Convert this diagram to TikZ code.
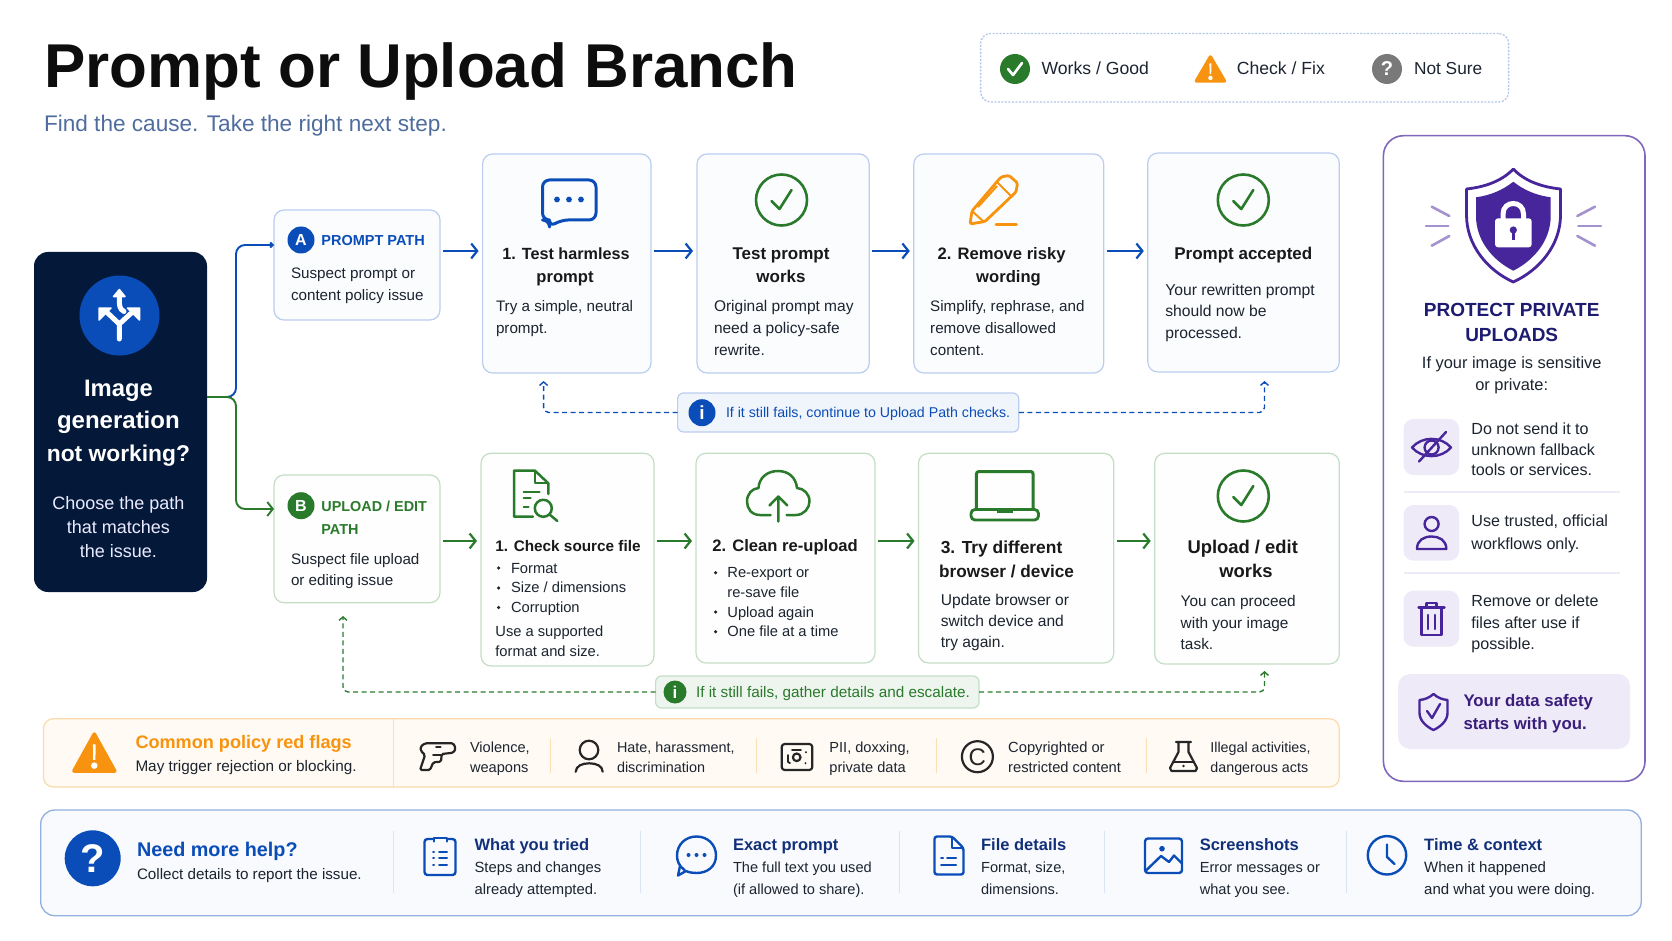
\documentclass[tikz,border=0pt]{standalone}
\usepackage{fontspec}
\setmainfont{Liberation Sans}
\usetikzlibrary{arrows.meta,calc}

\definecolor{inktxt}{HTML}{1C2430}
\definecolor{flowblue}{HTML}{0B4DB8}
\definecolor{flowgreen}{HTML}{2A7A2C}
\definecolor{warnor}{HTML}{F7930F}
\definecolor{navybox}{HTML}{04193A}
\definecolor{helpnavy}{HTML}{12307A}
\definecolor{purp}{HTML}{47259A}
\definecolor{purpnavy}{HTML}{1E1C70}
\definecolor{purpline}{HTML}{8067BE}
\definecolor{purptile}{HTML}{EFEAF8}
\definecolor{subtxt}{HTML}{4F6C9E}
\definecolor{cardblue}{HTML}{BBCDEF}
\definecolor{cardgreen}{HTML}{C4DEC6}

\newcommand{\sz}[1]{\fontsize{#1}{#1}\selectfont}

\tikzset{
  txt/.style={anchor=base west,inner sep=0pt,outer sep=0pt,text=inktxt,font=\sz{15.2}},
  mid/.style={txt,anchor=base},
  cardhead/.style={mid,font=\bfseries\sz{16.6},text=black!90},
  cardheadw/.style={txt,font=\bfseries\sz{16.6},text=black!90},
  bluecard/.style={draw=cardblue,fill=flowblue!1.5!white,line width=1.2pt,rounded corners=10pt,inner sep=0pt,outer sep=0pt},
  greencard/.style={draw=cardgreen,fill=flowgreen!1!white,line width=1.2pt,rounded corners=10pt,inner sep=0pt,outer sep=0pt},
  badge/.style={circle,inner sep=0pt,outer sep=0pt,text=white,font=\bfseries\sz{16}},
  blueflow/.style={->,>={Straight Barb[length=6pt,width=15pt]},flowblue,line width=2.2pt,shorten <=3pt,shorten >=4pt},
  greenflow/.style={->,>={Straight Barb[length=6pt,width=15pt]},flowgreen,line width=2.2pt,shorten <=3pt,shorten >=4pt},
  backdash/.style={->,>={Straight Barb[length=3.5pt,width=8pt]},dashed,line width=1.4pt,rounded corners=5pt,dash pattern=on 5pt off 3.5pt},
  flagsep/.style={draw=warnor!30!white,line width=1pt},
  helpsep/.style={draw=flowblue!15!white,line width=1pt},
  icona/.style={line width=2.6pt,line join=round,line cap=round},
  flagicon/.style={draw=black!85,line width=2.2pt,line join=round,line cap=round},
}

\newcommand{\card}[6]{\node[#1,minimum width={(#5-#3)*1pt},minimum height={(#6-#4)*1pt}] (#2) at ({(#3+#5)/2},{(#4+#6)/2}) {};}
\newcommand{\txtlines}[6]{\foreach \tline [count=\i from 0] in {#6} {\node[#2] (#1\i) at (#3,{#4+\i*#5}) {\tline};}}
\newcommand{\okring}[2]{%
  \draw[flowgreen,line width=2.6pt] (#1,#2) circle (25.5pt);
  \draw[flowgreen,line width=2.6pt,line cap=round,line join=round] ({#1-10},{#2+1}) -- ({#1-2},{#2+9}) -- ({#1+10},{#2-10});}
\newcommand{\warntri}[4]{%
  \fill[warnor,draw=warnor,line width=3.5pt,line join=round] (#1,{#2+2}) -- ({#1+#3-2},{#4-2}) -- ({#1-#3+2},{#4-2}) -- cycle;
  \fill[white] ({#1-0.06*#3},{#2+0.3*(#4-#2)}) -- ({#1+0.06*#3},{#2+0.3*(#4-#2)}) -- ({#1+0.05*#3},{#2+0.68*(#4-#2)}) -- ({#1-0.05*#3},{#2+0.68*(#4-#2)}) -- cycle;
  \fill[white] (#1,{#2+0.82*(#4-#2)}) circle ({0.08*(#4-#2)*1pt});}

\begin{document}
\begin{tikzpicture}[x=1pt,y=-1pt]
\useasboundingbox (0,0) rectangle (1672,941);

%title and legend
\node[txt,font=\bfseries\sz{61.9},text=black!95] (title) at (44.5,88) {Prompt or Upload Branch};
\node[txt,font=\sz{22.6},text=subtxt] (subtitle) at (44,132) {Find the cause. Take the right next step.};

\card{draw=flowblue!32!white,dash pattern=on 2pt off 1.5pt,line width=1.3pt,rounded corners=10pt,inner sep=0pt}{legend}{980.6}{33.5}{1508.6}{102}
\fill[flowgreen] (1015,69) circle (15pt);
\draw[white,line width=2.6pt,line cap=round,line join=round] (1008,69) -- (1013,75) -- (1022,63);
\node[txt,font=\sz{17.6}] (legok) at (1041.6,75) {Works / Good};
\warntri{1210.4}{55}{16}{83}
\node[txt,font=\sz{17.6}] (legfix) at (1236.9,75) {Check / Fix};
\node[badge,fill=gray!95!black,minimum size=30pt,font=\bfseries\sz{20}] (legq) at (1387,69) {?};
\node[txt,font=\sz{17.3}] (legsure) at (1414,75) {Not Sure};

%left box
\card{fill=navybox,rounded corners=14pt,inner sep=0pt,outer sep=0pt}{issue}{34}{252}{207}{592}
\fill[flowblue] (119.5,315.5) circle (40pt);
\draw[white,line width=5pt,line cap=round,line join=round] (119.3,339) -- (119.3,324) -- (106,311.5) (119.3,324) -- (133,311.5) (124,311.5) .. controls (119.3,309) and (119.3,306) .. (119.3,297);
\fill[white,draw=white,line width=1.5pt,line join=round] (119.3,289.5) -- (125,296.5) -- (113.6,296.5) -- cycle;
\fill[white,draw=white,line width=1.5pt,line join=round] (99,308) -- (111,308) -- (99,320) -- cycle;
\fill[white,draw=white,line width=1.5pt,line join=round] (139.5,308) -- (127.5,308) -- (139.5,320) -- cycle;
\node[mid,font=\bfseries\sz{23.8},text=white] (issuea) at (118.4,396) {Image};
\node[mid,font=\bfseries\sz{24},text=white] (issueb) at (118.4,428.5) {generation};
\node[mid,font=\bfseries\sz{22.8},text=white] (issuec) at (118.4,461.5) {not working?};
\txtlines{issuetxt}{mid,font=\sz{18},text=white!92!blue}{118.4}{509}{24}{Choose the path,that matches,the issue.}

%prompt row
\coordinate (rowa) at (0,251);
\card{bluecard}{apath}{274}{210}{440}{320}
\node[badge,fill=flowblue,minimum size=27pt] (abadge) at (301,240) {A};
\node[txt,font=\bfseries\sz{14.5},text=flowblue] (apathname) at (321.4,245.6) {PROMPT PATH};
\txtlines{apathtxt}{txt}{291}{279}{21}{Suspect prompt or,content policy issue}

\card{bluecard}{testp}{482.6}{154}{651}{373}
\draw[flowblue,line width=3pt,line join=round,rounded corners=7pt] (542.5,180) -- (596,180) -- (596,220) -- (561,220) -- (549.5,227) -- (549.5,220) -- (542.5,220) -- cycle;
\foreach \dx in {557,569,581} {\fill[flowblue] (\dx,199.5) circle (2.9pt);}
\node[cardhead,font=\bfseries\sz{16.2}] (testphead) at (566,260) {1. Test harmless};
\node[cardhead] (testphead2) at (565,283) {prompt};
\txtlines{testptxt}{txt}{496}{311}{22}{{Try a simple, neutral},prompt.}

\card{bluecard}{pworks}{697}{154}{869.2}{373}
\okring{781.5}{200}
\node[cardhead,font=\bfseries\sz{17}] (pworkshead) at (781,260) {Test prompt};
\node[cardhead,font=\bfseries\sz{17}] (pworkshead2) at (781,282) {works};
\txtlines{pworkstxt}{txt,font=\sz{15.5}}{714}{311}{22}{Original prompt may,need a policy-safe,rewrite.}

\card{bluecard}{rewrite}{913.8}{154}{1103.7}{373}
\draw[warnor,icona,line width=2.8pt,rounded corners=1.5pt] (970,224) -- (972,211) -- (1001,177) -- (1009,175.5) -- (1017.5,183) -- (1016,192) -- (985,221.5) -- cycle;
\draw[warnor,line width=2pt] (997,182) -- (1011,196) (978,207) -- (997,186) (972,211) -- (984,222);
\draw[warnor,line width=2.8pt,line cap=round] (996,224.5) -- (1016.5,224.5);
\node[cardheadw] (rewritehead) at (937.6,260) {2. Remove risky};
\node[cardhead] (rewritehead2) at (1008.5,282) {wording};
\txtlines{rewritetxt}{txt}{930.2}{311}{22}{{Simplify, rephrase, and},remove disallowed,content.}

\card{bluecard}{paccept}{1147.8}{153}{1339.3}{372}
\okring{1243.3}{200}
\node[cardhead,font=\bfseries\sz{17}] (paccepthead) at (1243.3,259.5) {Prompt accepted};
\txtlines{paccepttxt}{txt,font=\sz{15.7}}{1165.3}{295}{21.7}{Your rewritten prompt,should now be,processed.}

\foreach \a/\b in {apath/testp,testp/pworks,pworks/rewrite,rewrite/paccept} {\draw[blueflow] (\a.east |- rowa) -- (\b.west |- rowa);}

%blue fallback
\card{bluecard,fill=flowblue!6!white,rounded corners=6pt}{bluepill}{677.6}{393}{1018.8}{432}
\node[badge,fill=flowblue,minimum size=27pt,font=\bfseries\sz{19}] (bluei) at (702,412.7) {i};
\node[txt,font=\sz{14.2},text=flowblue] (bluepilltxt) at (726,417.7) {If it still fails, continue to Upload Path checks.};
\coordinate (bluebackl) at (543.6,381);
\coordinate (bluebackr) at (1264.5,381);
\draw[backdash,flowblue] (bluepill.west) -| (bluebackl);
\draw[backdash,flowblue] (bluepill.east) -| (bluebackr);

%upload row
\coordinate (rowb) at (0,541);
\card{greencard}{bpath}{274}{475}{440}{602.7}
\node[badge,fill=flowgreen,minimum size=27pt] (bbadge) at (301,505.7) {B};
\txtlines{bpathname}{txt,font=\bfseries\sz{14.4},text=flowgreen}{321.4}{511.7}{22.5}{UPLOAD / EDIT,PATH}
\txtlines{bpathtxt}{txt}{291}{564}{21.3}{Suspect file upload,or editing issue}

\card{greencard}{source}{481}{453.3}{654}{666}
\begin{scope}[flowgreen,icona,line width=2.5pt]
\draw (548.3,494) -- (548.3,483.3) -- (535,470.7) -- (514,470.7) -- (514,516.7) -- (533,516.7);
\draw[line width=2pt] (535,471) -- (535,483.3) -- (548,483.3);
\draw[line width=2pt] (523.5,491.7) -- (539.5,491.7) (523.5,498.3) -- (530.7,498.3) (523.5,506.5) -- (528.5,506.5);
\draw (543.3,508.3) circle (8.5pt);
\draw (549.5,514.5) -- (557.3,521);
\end{scope}
\node[cardheadw,font=\bfseries\sz{15.3}] (sourcehead) at (495.4,551.7) {1. Check source file};
\txtlines{sourcelist}{txt,font=\sz{14.7}}{511}{573}{19.8}{Format,Size / dimensions,Corruption}
\foreach \by in {568,588,607.5} {\fill[inktxt] (498.6,\by) circle (1.8pt);}
\txtlines{sourcetxt}{txt,font=\sz{14.7}}{495.4}{636.7}{19.6}{Use a supported,format and size.}

\card{greencard}{reup}{696}{453.3}{875}{663}
\begin{scope}[flowgreen,icona,line width=2.5pt]
\draw (770.5,515) -- (760,515) .. controls (751,515) and (747,508) .. (747,501.5) .. controls (747,494) and (752,488.5) .. (758.5,488) .. controls (759,478) and (767,471) .. (778,471) .. controls (789,471) and (796,478) .. (797,488) .. controls (804,488.5) and (809.5,494) .. (809.5,501.5) .. controls (809.5,508) and (804,515) .. (796,515) -- (786.5,515);
\draw (778.3,521.5) -- (778.3,497) (769.5,505.5) -- (778.3,496.5) -- (787.3,505.5);
\end{scope}
\node[cardheadw] (reuphead) at (712.4,551.7) {2. Clean re-upload};
\txtlines{reuplist}{txt,font=\sz{14.7}}{727.4}{577.7}{19.7}{Re-export or,re-save file,Upload again,One file at a time}
\foreach \by in {572.7,612,631.7} {\fill[inktxt] (715.6,\by) circle (1.8pt);}

\card{greencard}{device}{918.5}{453.3}{1113.8}{663}
\draw[flowgreen,line width=3pt,rounded corners=2.5pt] (976.4,509) -- (976.4,471.5) -- (1033.1,471.5) -- (1033.1,509);
\draw[flowgreen,line width=2.8pt,rounded corners=4pt] (971,509.5) rectangle (1038.5,520);
\fill[flowgreen] (997,509.5) rectangle (1013,512.5);
\node[cardheadw,font=\bfseries\sz{17.4}] (devicehead) at (940.8,553) {3. Try different};
\node[cardheadw,font=\bfseries\sz{17.2}] (devicehead2) at (939.2,577) {browser / device};
\txtlines{devicetxt}{txt,font=\sz{15.6}}{940.8}{605.7}{21}{Update browser or,switch device and,try again.}

\card{greencard}{uworks}{1154.7}{453.3}{1339.3}{664}
\okring{1243.3}{496}
\node[cardhead,font=\bfseries\sz{18.4}] (uworkshead) at (1242.7,553) {Upload / edit};
\node[cardhead,font=\bfseries\sz{18.4}] (uworkshead2) at (1246,577) {works};
\txtlines{uworkstxt}{txt,font=\sz{15.4}}{1180.7}{606.7}{21.6}{You can proceed,with your image,task.}

\foreach \a/\b in {bpath/source,source/reup,reup/device,device/uworks} {\draw[greenflow] (\a.east |- rowb) -- (\b.west |- rowb);}

%trunk out of the left box
\coordinate (trunk) at (236,397);
\coordinate (entrya) at (0,245);
\coordinate (entryb) at (0,509);
\draw[->,>={Straight Barb[length=2.5pt,width=5pt]},flowblue,line width=1.9pt,rounded corners=9pt] (issue.east |- trunk) -| (trunk |- entrya) -- (apath.west |- entrya);
\draw[->,>={Straight Barb[length=5.5pt,width=14pt]},flowgreen,line width=1.9pt,rounded corners=9pt] (issue.east |- trunk) -| (trunk |- entryb) -- (bpath.west |- entryb);

%green fallback
\card{greencard,fill=flowgreen!8!white,rounded corners=6pt}{greenpill}{655.6}{676}{979}{708}
\node[badge,fill=flowgreen,minimum size=23pt,font=\bfseries\sz{17}] (greeni) at (675,692) {i};
\node[txt,font=\sz{15.3},text=flowgreen] (greenpilltxt) at (696,697.3) {If it still fails, gather details and escalate.};
\coordinate (greenbackl) at (343,616);
\coordinate (greenbackr) at (1264.5,671);
\draw[backdash,flowgreen] (greenpill.west) -| (greenbackl);
\draw[backdash,flowgreen] (greenpill.east) -| (greenbackr);

%red flags strip
\card{draw=warnor!35!white,fill=warnor!5!white,line width=1.2pt,rounded corners=10pt,inner sep=0pt,outer sep=0pt}{flags}{43.4}{718.7}{1339.3}{787}
\draw[flagsep,line width=1.3pt] (393.7,718.7) -- (393.7,787);
\warntri{94.3}{732}{22.5}{773}
\node[txt,font=\bfseries\sz{18.1},text=warnor] (flaghead) at (135.5,748) {Common policy red flags};
\node[txt,font=\sz{15.3}] (flagsub) at (135.5,771.7) {May trigger rejection or blocking.};
\foreach \sx in {550.6,756.3,936,1146.2} {\draw[flagsep] (\sx,738) -- (\sx,773);}
\draw[flagicon,rounded corners=1.5pt] (425,743.3) -- (453.3,743.3) -- (455.7,748.5) -- (453.3,752.7) -- (441.7,754) -- (441,761.7) -- (433.3,762.3) -- (430,770) -- (420,770) -- (425,755) -- (420.7,750.7) -- (420.7,746.5) -- cycle;
\draw[flagicon,line width=1.6pt] (436,746.7) -- (440.7,746.7) (433,755) -- (441,755);
\txtlines{flagviol}{txt,font=\sz{14.6}}{470}{752}{20}{{Violence,},weapons}
\draw[flagicon] (589,750) circle (9.3pt);
\draw[flagicon] (575.7,771.7) .. controls (576,766) and (582,763.3) .. (589.3,763.3) .. controls (596.5,763.3) and (602.5,766) .. (602.7,771.7);
\txtlines{flaghate}{txt,font=\sz{14.4}}{617}{752}{20}{{Hate, harassment,},discrimination}
\draw[flagicon,rounded corners=3pt] (781.7,744) rectangle (812.3,770);
\draw[flagicon] (796.7,757.3) circle (3.8pt);
\draw[flagicon,line width=1.8pt] (788,755) -- (788,762) -- (790,763) (792,750) -- (801,750) (806,752) -- (806,752.5) (805.5,763) -- (805.5,763.5);
\txtlines{flagpii}{txt,font=\sz{14.6}}{829.4}{752}{20}{{PII, doxxing,},private data}
\draw[flagicon] (977.4,756.7) circle (15.5pt);
\node[mid,font=\sz{24},text=black!85] (flagc) at (977.4,765) {C};
\txtlines{flagcopy}{txt,font=\sz{14.7}}{1008.2}{752}{20}{Copyrighted or,restricted content}
\draw[flagicon] (1176,742) -- (1191,742) (1178.5,742) -- (1178.5,752) -- (1170,768) -- (1171.5,771) -- (1195.5,771) -- (1197,768) -- (1188.5,752) -- (1188.5,742);
\draw[flagicon,line width=1.6pt] (1174,762) -- (1193,762);
\fill[black!85] (1183.5,766) circle (1.4pt);
\txtlines{flagillegal}{txt,font=\sz{14.3}}{1210.4}{752}{20}{{Illegal activities,},dangerous acts}

%help strip
\card{draw=flowblue!45!white,fill=flowblue!3!white,line width=1.3pt,rounded corners=14pt,inner sep=0pt,outer sep=0pt}{help}{40.7}{810}{1641.2}{915.7}
\node[badge,fill=flowblue,minimum size=56pt,font=\bfseries\sz{40}] (helpq) at (92.7,858.3) {?};
\node[txt,font=\bfseries\sz{19.8},text=flowblue] (helphead) at (137,856) {Need more help?};
\node[txt,font=\sz{15.2}] (helpsub) at (137,879) {Collect details to report the issue.};
\foreach \sx in {393.7,640.6,899.4,1104.8,1346.2} {\draw[helpsep] (\sx,830.7) -- (\sx,892.7);}
\begin{scope}[flowblue,icona,line width=2.4pt]
\draw[rounded corners=3pt] (424.5,839) rectangle (455.5,875);
\fill[flowblue!3!white] (433.5,835) rectangle (446.5,842);
\draw[line width=2pt] (433.5,841.5) -- (433.5,837.5) -- (446.5,837.5) -- (446.5,841.5);
\draw[line width=2pt] (433,851.5) -- (434,851.5) (439,851.5) -- (447,851.5) (433,858) -- (434,858) (439,858) -- (447,858) (433,865) -- (434,865) (439,865) -- (447,865);
\draw (684.5,870) .. controls (679,866) and (677,861) .. (677,855.5) .. controls (677,844.5) and (685.5,836.5) .. (696.5,836.5) .. controls (707.5,836.5) and (716,844.5) .. (716,855.5) .. controls (716,866.5) and (707.5,873) .. (696.5,873) .. controls (693,873) and (689,872.5) .. (686,871) -- (678,875.5) -- (680,866);
\foreach \dx in {688.5,696.5,704.5} {\fill (\dx,855) circle (2pt);}
\draw[rounded corners=2.5pt] (952,836.5) -- (934.5,836.5) -- (934.5,874.5) -- (963.5,874.5) -- (963.5,848) -- cycle;
\draw[line width=2pt] (952,837) -- (952,848) -- (963,848) (941,858) -- (943,858) (947,858) -- (956,858) (941,865) -- (956,865);
\draw[rounded corners=3pt] (1145,838.5) rectangle (1182,873);
\fill (1162,848.7) circle (2.8pt);
\draw (1146.5,870) -- (1161,856) -- (1169,862) -- (1174,855.5) -- (1181.5,863);
\draw (1387,855.3) circle (19.2pt);
\draw (1387,844.5) -- (1387,857) -- (1394.5,864);
\end{scope}
\txtlines{triedtxt}{txt,font=\bfseries\sz{16.5},text=helpnavy}{474.6}{850.7}{0}{What you tried}
\txtlines{triedsub}{txt,font=\sz{14.8}}{474.6}{872.7}{21.3}{Steps and changes,already attempted.}
\txtlines{exacttxt}{txt,font=\bfseries\sz{16.5},text=helpnavy}{733}{850.7}{0}{Exact prompt}
\txtlines{exactsub}{txt,font=\sz{14.6}}{733}{872.7}{21.3}{The full text you used,(if allowed to share).}
\txtlines{filetxt}{txt,font=\bfseries\sz{16.5},text=helpnavy}{981.1}{850.7}{0}{File details}
\txtlines{filesub}{txt,font=\sz{14.6}}{981.1}{872.7}{21.3}{{Format, size,},dimensions.}
\txtlines{shottxt}{txt,font=\bfseries\sz{16.5},text=helpnavy}{1199.8}{850.7}{0}{Screenshots}
\txtlines{shotsub}{txt,font=\sz{14.6}}{1199.8}{872.7}{21.3}{Error messages or,what you see.}
\txtlines{timetxt}{txt,font=\bfseries\sz{16.5},text=helpnavy}{1424.2}{850.7}{0}{Time \& context}
\txtlines{timesub}{txt,font=\sz{15}}{1424.2}{872.7}{21.3}{When it happened,and what you were doing.}

%privacy panel
\card{draw=purpline,fill=white,line width=1.6pt,rounded corners=20pt,inner sep=0pt,outer sep=0pt}{privacy}{1383.4}{135.7}{1645}{781.3}
\foreach \rx/\ry/\sx/\sy in {1431.7/206.7/1449.3/216,1426/226/1448.3/226,1431.7/245.7/1449.3/236,1595/206.7/1577.3/216,1601/226/1578.3/226,1595/245.7/1577.3/236} {\draw[purp!50!white,line width=2.6pt,line cap=round] (\rx,\ry) -- (\sx,\sy);}
\draw[purp,line width=2.8pt,line join=round] (1513.3,169) .. controls (1502,181) and (1485,187) .. (1466.5,189) -- (1466.5,215) .. controls (1466.5,245) and (1487,270) .. (1513.3,282) .. controls (1539.5,270) and (1560.5,245) .. (1560.5,215) -- (1560.5,189) .. controls (1541.5,187) and (1524.5,181) .. cycle;
\fill[purp] (1513.3,181.7) .. controls (1503,190) and (1490,195.5) .. (1476,197.3) -- (1476,216) .. controls (1476,240) and (1492,260) .. (1513.3,270.7) .. controls (1534.5,260) and (1550.7,240) .. (1550.7,216) -- (1550.7,197.3) .. controls (1536.5,195.5) and (1523.5,190) .. cycle;
\draw[white,line width=5pt] (1503,220) -- (1503,214) .. controls (1503,200) and (1523.5,200) .. (1523.5,214) -- (1523.5,220);
\fill[white,rounded corners=3pt] (1495,218.3) rectangle (1531.7,247.3);
\fill[purp] (1513.3,230) circle (3.6pt);
\fill[purp] (1511.8,231) rectangle (1514.8,240);
\txtlines{privhead}{mid,font=\bfseries\sz{19},text=purpnavy}{1511.7}{316}{25.5}{PROTECT PRIVATE,UPLOADS}
\txtlines{privsub}{mid,font=\sz{16.4}}{1511.7}{368}{22.7}{If your image is sensitive,or private:}

\card{fill=purptile,rounded corners=10pt,inner sep=0pt,outer sep=0pt}{tileeye}{1403.5}{419}{1459.2}{475}
\begin{scope}[purp,icona,line width=2.4pt]
\draw (1412,447.5) .. controls (1422,436) and (1441,436) .. (1451,447.5) .. controls (1441,459) and (1422,459) .. (1412,447.5) -- cycle;
\draw (1431.6,447.5) circle (7pt);
\draw (1419,461.5) -- (1446,432);
\end{scope}
\txtlines{tileeyetxt}{txt,font=\sz{16.1}}{1471.4}{434.3}{20.7}{Do not send it to,unknown fallback,tools or services.}
\draw[purptile,line width=1.6pt] (1403.5,492) -- (1620,492);
\card{fill=purptile,rounded corners=10pt,inner sep=0pt,outer sep=0pt}{tileuser}{1403.5}{505}{1459.2}{560.7}
\begin{scope}[purp,icona,line width=2.4pt]
\draw (1431.6,524) circle (7pt);
\draw (1417,549) .. controls (1417,540) and (1424,536.5) .. (1431.6,536.5) .. controls (1439,536.5) and (1446.3,540) .. (1446.3,549) -- cycle;
\end{scope}
\txtlines{tileusertxt}{txt,font=\sz{16.1}}{1471.4}{526.7}{22.3}{{Use trusted, official},workflows only.}
\draw[purptile,line width=1.6pt] (1403.5,572.7) -- (1620,572.7);
\card{fill=purptile,rounded corners=10pt,inner sep=0pt,outer sep=0pt}{tiletrash}{1403.5}{590.7}{1459.2}{646.7}
\begin{scope}[purp,icona,line width=2.4pt]
\draw (1418.5,607.5) -- (1444.5,607.5) (1426.5,607) -- (1426.5,603) -- (1436.5,603) -- (1436.5,607);
\draw (1421.5,608) -- (1421.5,635) -- (1441.5,635) -- (1441.5,608);
\draw (1428,615) -- (1428,629) (1435,615) -- (1435,629);
\end{scope}
\txtlines{tiletrashtxt}{txt,font=\sz{16.1}}{1471.4}{606.7}{21.6}{Remove or delete,files after use if,possible.}

\card{fill=purptile,rounded corners=12pt,inner sep=0pt,outer sep=0pt}{safety}{1398.2}{674}{1630}{749}
\begin{scope}[purp,icona,line width=2.4pt]
\draw (1433.5,694) .. controls (1429,698) and (1424.5,699.5) .. (1419.5,700) -- (1419.5,713) .. controls (1419.5,721) and (1427,727) .. (1433.5,730) .. controls (1440,727) and (1447.5,721) .. (1447.5,713) -- (1447.5,700) .. controls (1442.5,699.5) and (1438,698) .. cycle;
\draw (1427,711) -- (1432,718) -- (1440,704);
\end{scope}
\txtlines{safetytxt}{txt,font=\bfseries\sz{16.8},text=purp!80!black}{1463.5}{706.7}{22.3}{Your data safety,starts with you.}
\end{tikzpicture}
\end{document}
